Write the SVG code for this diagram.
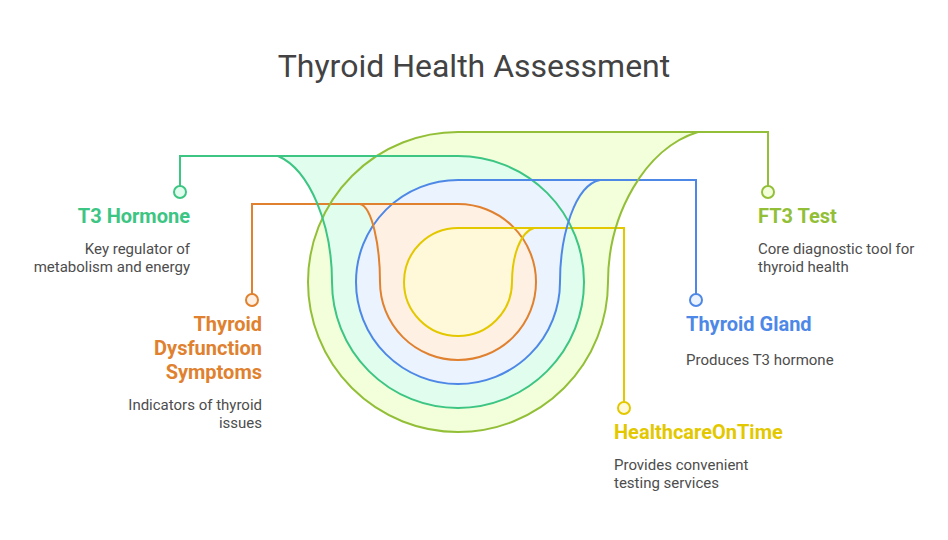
<svg xmlns="http://www.w3.org/2000/svg" width="948" height="540" viewBox="0 0 948 540">
<style>
text{font-family:Roboto,"Liberation Sans",sans-serif}
.title{font-size:32px;fill:#434343}
.h{font-size:20px;font-weight:700}
.b{font-size:15px;fill:#4d4d4d}
.e{text-anchor:end}
.w{fill:none;stroke-width:2}
.ol{stroke:#93bf38}.gr{stroke:#3cc583}.bl{stroke:#4e88e7}.or{stroke:#e0812f}.ye{stroke:#e3c800}
.olf{fill:#f3ffdb}.grf{fill:#e1fdee}.blf{fill:#ebf3fe}.orf{fill:#fff0e4}.yef{fill:#fff9d9}
.olt{fill:#93bf38}.grt{fill:#3cc583}.blt{fill:#4e88e7}.ort{fill:#e0812f}.yet{fill:#e3c800}
.d{stroke-width:2}
</style>
<defs>
<path id="s-ol" d="M458 132H698C645 148 608 215 608 282A150 150 0 0 1 308 282A150 150 0 0 1 458 132Z"/>
<path id="s-gr" d="M278 156H458A126 126 0 0 1 458 408A126 126 0 0 1 332 282C332 225 310 170 278 156Z"/>
<path id="s-bl" d="M458 180H600C575 185 560 235 560 282A102 102 0 0 1 356 282A102 102 0 0 1 458 180Z"/>
<path id="s-or" d="M360 204H458A78 78 0 0 1 458 360A78 78 0 0 1 380 282C380 245 372 207 360 204Z"/>
<path id="s-ye" d="M458 228H534C520 232 512 257 512 282A54 54 0 0 1 404 282A54 54 0 0 1 458 228Z"/>
</defs>
<text class="title" x="474" y="77" text-anchor="middle">Thyroid Health Assessment</text>
<g id="band-fills">
<use href="#s-ol" class="olf"/><use href="#s-gr" class="grf"/><use href="#s-bl" class="blf"/><use href="#s-or" class="orf"/><use href="#s-ye" class="yef"/>
</g>
<g id="connectors" class="w">
<path class="w ol" d="M458 132H768V186"/>
<path class="w gr" d="M458 156H180V186"/>
<path class="w bl" d="M458 180H696V294"/>
<path class="w or" d="M458 204H252V294"/>
<path class="w ye" d="M458 228H624V402"/>
</g>
<g id="node-ft3">
<use href="#s-ol" class="w ol"/>
<circle class="olf ol d" cx="768" cy="192" r="6"/>
<text class="h olt" x="758" y="223">FT3 Test</text>
<text class="b" x="758" y="254">Core diagnostic tool for</text>
<text class="b" x="758" y="272">thyroid health</text>
</g>
<g id="node-t3">
<use href="#s-gr" class="w gr"/>
<circle class="grf gr d" cx="180" cy="192" r="6"/>
<text class="h grt e" x="190" y="223">T3 Hormone</text>
<text class="b e" x="190" y="254">Key regulator of</text>
<text class="b e" x="190" y="272">metabolism and energy</text>
</g>
<g id="node-gland">
<use href="#s-bl" class="w bl"/>
<circle class="blf bl d" cx="696" cy="300" r="6"/>
<text class="h blt" x="686" y="331">Thyroid Gland</text>
<text class="b" x="686" y="365">Produces T3 hormone</text>
</g>
<g id="node-symptoms">
<use href="#s-or" class="w or"/>
<circle class="orf or d" cx="252" cy="300" r="6"/>
<text class="h ort e" x="262" y="331">Thyroid</text>
<text class="h ort e" x="262" y="355">Dysfunction</text>
<text class="h ort e" x="262" y="379">Symptoms</text>
<text class="b e" x="262" y="410">Indicators of thyroid</text>
<text class="b e" x="262" y="428">issues</text>
</g>
<g id="node-hot">
<use href="#s-ye" class="w ye"/>
<circle class="yef ye d" cx="624" cy="408" r="6"/>
<text class="h yet" x="614" y="439">HealthcareOnTime</text>
<text class="b" x="614" y="470">Provides convenient</text>
<text class="b" x="614" y="488">testing services</text>
</g>
</svg>
